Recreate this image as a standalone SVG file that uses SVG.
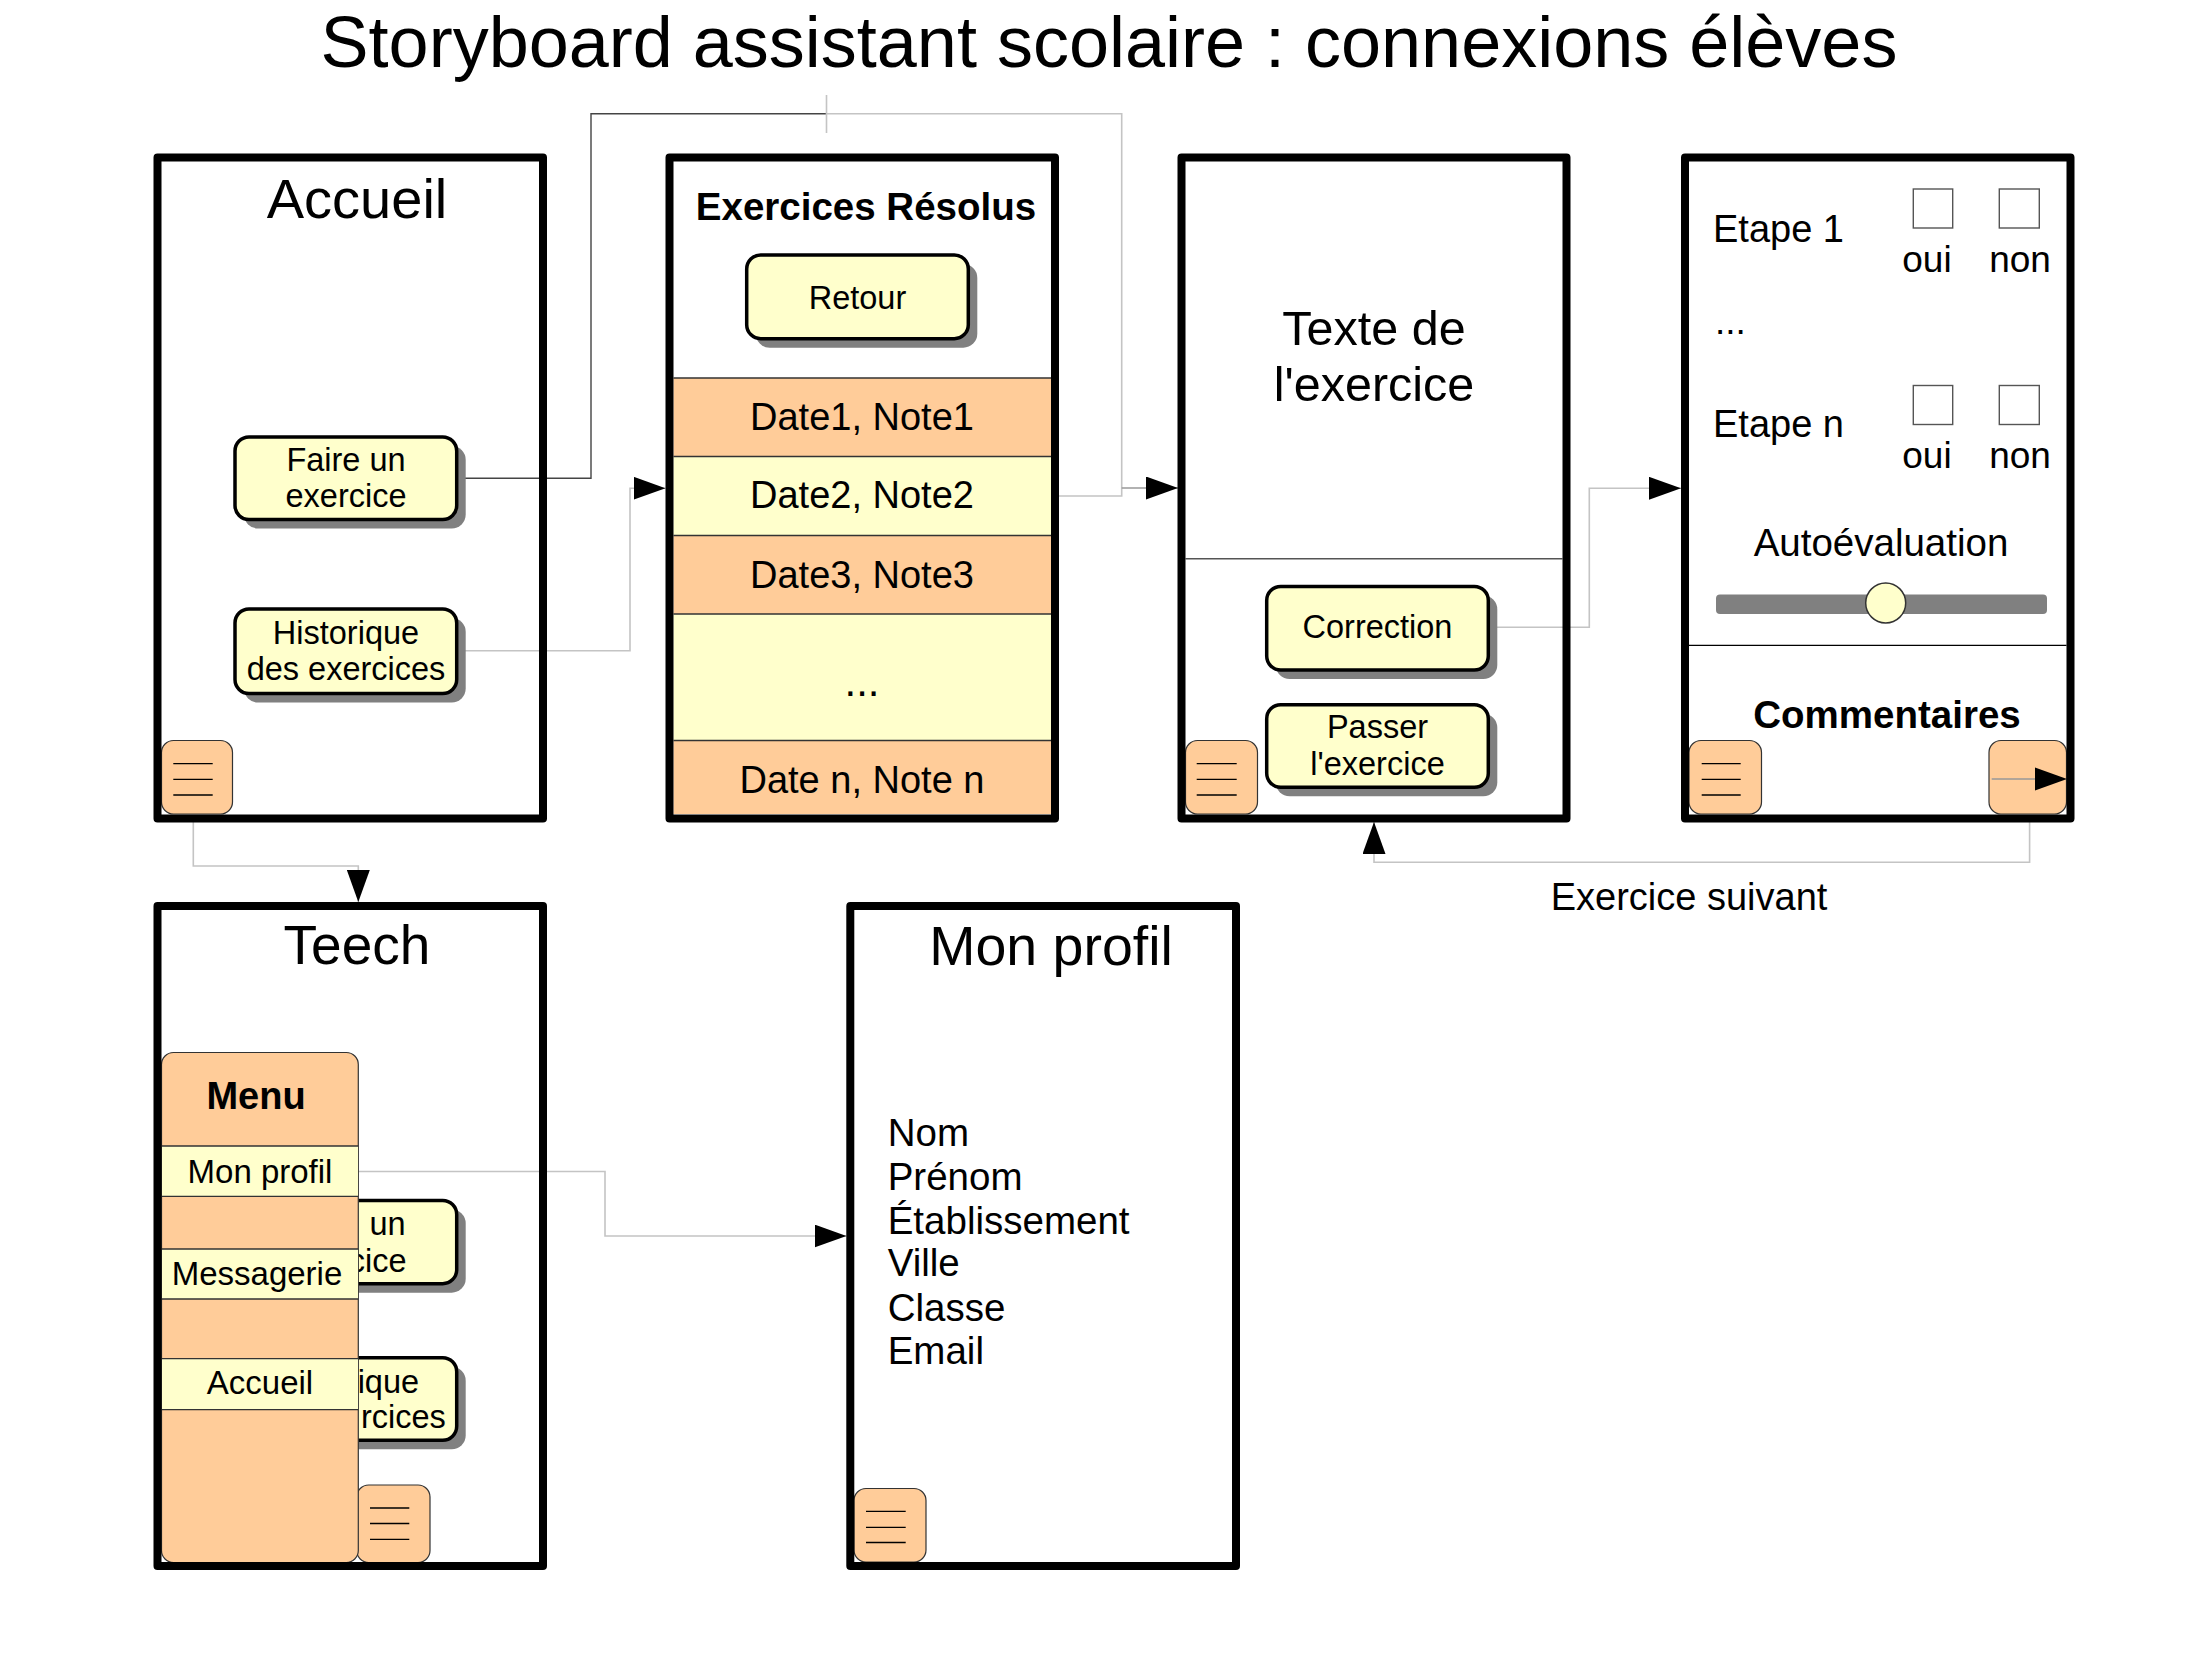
<svg xmlns="http://www.w3.org/2000/svg" width="2206" height="1653" viewBox="0 0 2206 1653">
<style>
.t{font-family:"Liberation Sans",Arial,Helvetica,sans-serif;fill:#000}
.m{text-anchor:middle}
.e{text-anchor:end}
.b{font-weight:bold}
.frame{fill:none;stroke:#000;stroke-width:8;stroke-linejoin:round}
.btn{fill:#FFFFCC;stroke:#000;stroke-width:3.5}
.sh{fill:#808080}
.peach{fill:#FFCC99}
.yel{fill:#FFFFCC}
.menu{fill:#FFCC99;stroke:#333;stroke-width:1.2}
.ham{stroke:#000;stroke-width:1.3}
.sep{stroke:#333;stroke-width:1.3}
.conn{fill:none;stroke:#c4c4c4;stroke-width:1.6}
.dark{fill:none;stroke:#444;stroke-width:1.4}
.box{fill:#fff;stroke:#555;stroke-width:1.4}
</style>
<defs>
<marker id="arr" markerUnits="userSpaceOnUse" markerWidth="32" markerHeight="23" refX="32" refY="11.5" orient="auto">
<path d="M0,0 L32,11.5 L0,23 z" fill="#000"/>
</marker>
</defs>
<rect width="2206" height="1653" fill="#fff"/>
<text class="t m" x="1109" y="67" font-size="72">Storyboard assistant scolaire : connexions élèves</text>

<g id="connectors">
<path class="dark" d="M458,478.3 H591 V113.7 H826.5"/>
<path class="conn" d="M826.5,113.7 H1121.7 V496 H1058"/>
<path class="conn" d="M826.5,95 V133"/>
<path fill="none" stroke="#999" stroke-width="1.6" d="M1121.7,488 H1178" marker-end="url(#arr)"/>
<path class="conn" d="M458,650.7 H630 V488.2 H665.5" marker-end="url(#arr)"/>
<path class="conn" d="M1489,627.3 H1589.3 V488.3 H1681" marker-end="url(#arr)"/>
<path class="conn" d="M2029.6,821.7 V862.3 H1374 V822" marker-end="url(#arr)"/>
<path class="conn" d="M193.3,818 V866 H358.3 V902" marker-end="url(#arr)"/>
<path class="conn" d="M358.3,1171.5 H605 V1236 H846.5" marker-end="url(#arr)"/>
<text class="t m" x="1689" y="910" font-size="38">Exercice suivant</text>
</g>

<g id="accueil">
<text class="t m" x="357" y="218" font-size="56">Accueil</text>
<rect class="sh" x="244" y="446" width="221.7" height="82.5" rx="14"/>
<rect class="btn" x="235" y="437" width="221.7" height="82.5" rx="14"/>
<text class="t m" x="346" y="471" font-size="32.5">Faire un</text>
<text class="t m" x="346" y="507" font-size="32.5">exercice</text>
<rect class="sh" x="244" y="618" width="221.7" height="84.6" rx="14"/>
<rect class="btn" x="235" y="609" width="221.7" height="84.6" rx="14"/>
<text class="t m" x="346" y="643.6" font-size="32.5">Historique</text>
<text class="t m" x="346" y="680" font-size="32.5">des exercices</text>
<rect class="menu" x="161.5" y="740.5" width="71" height="73.5" rx="12"/>
<path class="ham" d="M173.3,763.7 H212.7 M173.3,779.3 H212.7 M173.3,795 H212.7"/>
<rect class="frame" x="157.5" y="157.5" width="385.5" height="661"/>
</g>

<g id="exercices-resolus">
<text class="t m b" x="866" y="219.5" font-size="38.5">Exercices Résolus</text>
<rect class="sh" x="755.7" y="264" width="221.6" height="83.7" rx="14"/>
<rect class="btn" x="746.7" y="255" width="221.6" height="83.7" rx="14"/>
<text class="t m" x="857.5" y="308.8" font-size="32.5">Retour</text>
<rect class="peach" x="673.5" y="378" width="378" height="78.5"/>
<rect class="yel" x="673.5" y="456.5" width="378" height="79"/>
<rect class="peach" x="673.5" y="535.5" width="378" height="78.5"/>
<rect class="yel" x="673.5" y="614" width="378" height="126.5"/>
<rect class="peach" x="673.5" y="740.5" width="378" height="73.5"/>
<path class="sep" d="M673.5,378 H1051.5 M673.5,456.5 H1051.5 M673.5,535.5 H1051.5 M673.5,614 H1051.5 M673.5,740.5 H1051.5"/>
<text class="t m" x="862" y="430" font-size="38">Date1, Note1</text>
<text class="t m" x="862" y="508" font-size="38">Date2, Note2</text>
<text class="t m" x="862" y="587.8" font-size="38">Date3, Note3</text>
<text class="t m" x="862" y="696" font-size="42">...</text>
<text class="t m" x="862" y="792.7" font-size="38">Date n, Note n</text>
<rect class="frame" x="669.5" y="157.5" width="385.5" height="661"/>
</g>

<g id="texte-exercice">
<text class="t m" x="1374" y="345.4" font-size="48.5">Texte de</text>
<text class="t m" x="1374" y="401" font-size="48.5">l'exercice</text>
<path d="M1185.5,558.7 H1562.5" stroke="#555" stroke-width="1.5"/>
<rect class="sh" x="1275.7" y="595.4" width="221.6" height="83.6" rx="14"/>
<rect class="btn" x="1266.7" y="586.4" width="221.6" height="83.6" rx="14"/>
<text class="t m" x="1377.5" y="637.8" font-size="32.5">Correction</text>
<rect class="sh" x="1275.7" y="713.7" width="221.6" height="82.6" rx="14"/>
<rect class="btn" x="1266.7" y="704.7" width="221.6" height="82.6" rx="14"/>
<text class="t m" x="1377.5" y="738" font-size="32.5">Passer</text>
<text class="t m" x="1377.5" y="774.8" font-size="32.5">l'exercice</text>
<rect class="menu" x="1185.5" y="740.5" width="72" height="73.5" rx="12"/>
<path class="ham" d="M1196.7,763.7 H1236.7 M1196.7,779.3 H1236.7 M1196.7,795 H1236.7"/>
<rect class="frame" x="1181.5" y="157.5" width="385" height="661"/>
</g>

<g id="correction">
<text class="t" x="1713" y="241.8" font-size="38">Etape 1</text>
<rect class="box" x="1913.3" y="189" width="39.4" height="39"/>
<rect class="box" x="1999.3" y="189" width="40" height="39"/>
<text class="t m" x="1927" y="271.7" font-size="37">oui</text>
<text class="t m" x="2020" y="271.7" font-size="37">non</text>
<text class="t" x="1715" y="334" font-size="37">...</text>
<text class="t" x="1713" y="436.9" font-size="38">Etape n</text>
<rect class="box" x="1913.3" y="385.5" width="39.4" height="39"/>
<rect class="box" x="1999.3" y="385.5" width="40" height="39"/>
<text class="t m" x="1927" y="468" font-size="37">oui</text>
<text class="t m" x="2020" y="468" font-size="37">non</text>
<text class="t m" x="1881" y="556" font-size="38.5">Autoévaluation</text>
<rect x="1716" y="594.5" width="331" height="19.5" rx="4" fill="#808080"/>
<circle cx="1885.7" cy="603" r="20" fill="#FFFFCC" stroke="#333" stroke-width="1.5"/>
<path d="M1689,645.4 H2066.5" stroke="#000" stroke-width="1.4"/>
<text class="t m b" x="1887" y="728.4" font-size="38.5">Commentaires</text>
<rect class="menu" x="1689" y="740.5" width="72.5" height="73.5" rx="12"/>
<path class="ham" d="M1701.7,763.7 H1740.7 M1701.7,779.3 H1740.7 M1701.7,795 H1740.7"/>
<rect class="menu" x="1989" y="740.5" width="77.5" height="73.5" rx="12"/>
<path d="M1991.7,779 H2040" stroke="#999" stroke-width="1.3"/>
<path d="M2035,767.5 L2067,779 L2035,790.5 z" fill="#000"/>
<rect class="frame" x="1685" y="157.5" width="385.5" height="661"/>
</g>

<g id="teech">
<text class="t m" x="357" y="964.3" font-size="55">Teech</text>
<rect class="sh" x="244" y="1209.5" width="221.7" height="83.2" rx="14"/>
<rect class="btn" x="235" y="1200.5" width="221.7" height="83.2" rx="14"/>
<text class="t e" x="405.6" y="1235" font-size="32.5">un</text>
<text class="t e" x="406.5" y="1272" font-size="32.5">cice</text>
<rect class="sh" x="244" y="1366.7" width="221.7" height="82.6" rx="14"/>
<rect class="btn" x="235" y="1357.7" width="221.7" height="82.6" rx="14"/>
<text class="t e" x="419.1" y="1392.9" font-size="32.5">ique</text>
<text class="t e" x="445.8" y="1427.6" font-size="32.5">rcices</text>
<rect class="menu" x="356.7" y="1485" width="73.3" height="77.5" rx="12"/>
<path class="ham" d="M370,1508 H409.3 M370,1523.5 H409.3 M370,1539.3 H409.3"/>
<g id="menu-panel">
<rect class="menu" x="161.5" y="1052.5" width="196.8" height="510" rx="12"/>
<rect class="yel" x="162" y="1146" width="196" height="50.4"/>
<rect class="yel" x="162" y="1249" width="196" height="50"/>
<rect class="yel" x="162" y="1358.7" width="196" height="51"/>
<path class="sep" d="M161.5,1146 H358.3 M161.5,1196.4 H358.3 M161.5,1249 H358.3 M161.5,1299 H358.3 M161.5,1358.7 H358.3 M161.5,1409.7 H358.3"/>
<text class="t m b" x="256" y="1108.7" font-size="38">Menu</text>
<text class="t m" x="260" y="1182.7" font-size="33">Mon profil</text>
<text class="t m" x="257" y="1284.7" font-size="33">Messagerie</text>
<text class="t m" x="260" y="1394.4" font-size="33">Accueil</text>
</g>
<rect class="frame" x="157.5" y="906" width="385.5" height="660"/>
</g>

<g id="mon-profil">
<text class="t m" x="1051" y="965" font-size="55.5">Mon profil</text>
<text class="t" x="887.7" y="1146.3" font-size="38.5">Nom</text>
<text class="t" x="887.7" y="1189.9" font-size="38.5">Prénom</text>
<text class="t" x="887.7" y="1233.5" font-size="38.5">Établissement</text>
<text class="t" x="887.7" y="1275.8" font-size="38.5">Ville</text>
<text class="t" x="887.7" y="1320.8" font-size="38.5">Classe</text>
<text class="t" x="887.7" y="1364.4" font-size="38.5">Email</text>
<rect class="menu" x="854" y="1488.5" width="72" height="73.5" rx="12"/>
<path class="ham" d="M866,1511.3 H905.7 M866,1527.4 H905.7 M866,1542.5 H905.7"/>
<rect class="frame" x="850.3" y="906" width="385.7" height="660"/>
</g>
</svg>
